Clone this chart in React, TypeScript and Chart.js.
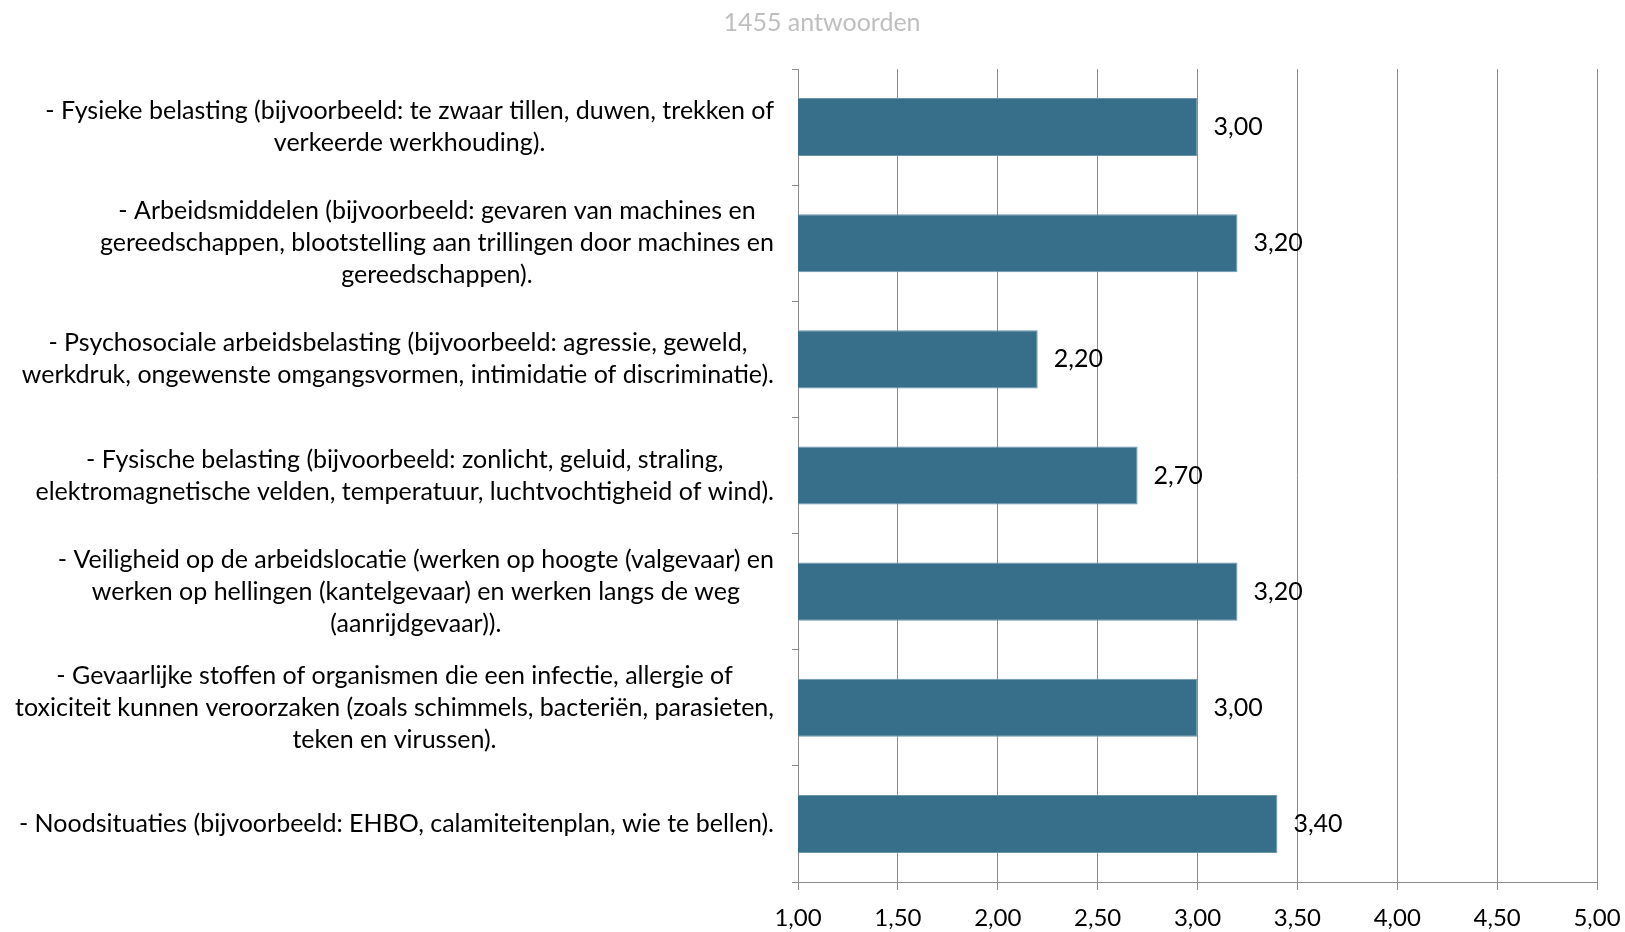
import React, { useEffect, useRef } from "react";
import { Chart, registerables } from "chart.js";
Chart.register(...registerables);

const title = "1455 antwoorden";
const categories: string[][] = [
  ["- Fysieke belasting (bijvoorbeeld: te zwaar tillen, duwen, trekken of", "verkeerde werkhouding)."],
  ["- Arbeidsmiddelen (bijvoorbeeld: gevaren van machines en", "gereedschappen, blootstelling aan trillingen door machines en", "gereedschappen)."],
  ["- Psychosociale arbeidsbelasting (bijvoorbeeld: agressie, geweld,", "werkdruk, ongewenste omgangsvormen, intimidatie of discriminatie)."],
  ["- Fysische belasting (bijvoorbeeld: zonlicht, geluid, straling,", "elektromagnetische velden, temperatuur, luchtvochtigheid of wind)."],
  ["- Veiligheid op de arbeidslocatie (werken op hoogte (valgevaar) en", "werken op hellingen (kantelgevaar) en werken langs de weg", "(aanrijdgevaar))."],
  ["- Gevaarlijke stoffen of organismen die een infectie, allergie of", "toxiciteit kunnen veroorzaken (zoals schimmels, bacteriën, parasieten,", "teken en virussen)."],
  ["- Noodsituaties (bijvoorbeeld: EHBO, calamiteitenplan, wie te bellen)."],
];
const values: number[] = [3.0, 3.2, 2.2, 2.7, 3.2, 3.0, 3.4];
const xMin = 1;
const xMax = 5;
const xStep = 0.5;

const FONT = "Lato";
const FS = 25;
const LH = 32;
const GRID = "#8c8c8c";
const BAR = "#376f8b";

const fmt = (v: number) => v.toFixed(2).replace(".", ",");

const textPlugin = {
  id: "customText",
  afterDraw(chart: any) {
    const ctx = chart.ctx;
    const ys = chart.scales.y;
    const xs = chart.scales.x;
    ctx.save();
    ctx.font = `${FS}px ${FONT}`;
    ctx.fillStyle = "#000";
    ctx.textBaseline = "middle";
    ctx.textAlign = "center";
    categories.forEach((lines, i) => {
      const cy = ys.getPixelForValue(i);
      const maxW = Math.max(...lines.map((l) => ctx.measureText(l).width));
      const right = chart.chartArea.left - 24;
      const cx = right - maxW / 2;
      lines.forEach((l, j) => {
        ctx.fillText(l, cx, cy + (j - (lines.length - 1) / 2) * LH);
      });
    });
    ctx.textAlign = "left";
    values.forEach((v, i) => {
      ctx.fillText(fmt(v), xs.getPixelForValue(v) + 16, ys.getPixelForValue(i));
    });
    ctx.restore();
  },
};

export default function App() {
  const ref = useRef<HTMLCanvasElement>(null);
  useEffect(() => {
    if (!ref.current) return;
    const chart = new Chart(ref.current, {
      type: "bar",
      data: {
        labels: categories.map((c) => c.join(" ")),
        datasets: [
          {
            data: values,
            backgroundColor: BAR,
            borderColor: "#6a94aa",
            borderWidth: 1,
            borderSkipped: false,
            barPercentage: 0.5,
            categoryPercentage: 1,
          },
        ],
      },
      options: {
        indexAxis: "y",
        responsive: false,
        animation: false,
        layout: { padding: { left: 47, right: 28, top: 0, bottom: 0 } },
        plugins: {
          legend: { display: false },
          tooltip: { enabled: false },
          title: {
            display: true,
            text: title,
            color: "#bfbfbf",
            font: { family: FONT, size: 25, weight: "normal" },
            padding: { top: 8, bottom: 31 },
          },
        },
        scales: {
          y: {
            type: "category",
            offset: true,
            ticks: { display: false },
            grid: { offset: true, drawOnChartArea: false, drawTicks: true, tickLength: 6, color: GRID },
            border: { display: true, color: GRID, width: 1 },
            afterFit: (s: any) => {
              s.width = 751;
            },
          },
          x: {
            type: "linear",
            position: "bottom",
            min: xMin,
            max: xMax,
            ticks: {
              stepSize: xStep,
              callback: (v: any) => fmt(Number(v)),
              color: "#000",
              font: { family: FONT, size: 24 },
              padding: 14,
              maxRotation: 0,
            },
            grid: { color: GRID, tickLength: 8, lineWidth: 1 },
            border: { display: true, color: GRID, width: 1 },
            afterFit: (s: any) => {
              s.height = 50;
              s.paddingLeft = 0;
              s.paddingRight = 0;
            },
          },
        },
      },
      plugins: [textPlugin],
    } as any);
    return () => chart.destroy();
  }, []);
  return (
    <div style={{ position: "absolute", left: 0, top: 0, width: 1625, height: 932, background: "#fff" }}>
      <canvas ref={ref} width={1625} height={932} />
    </div>
  );
}
